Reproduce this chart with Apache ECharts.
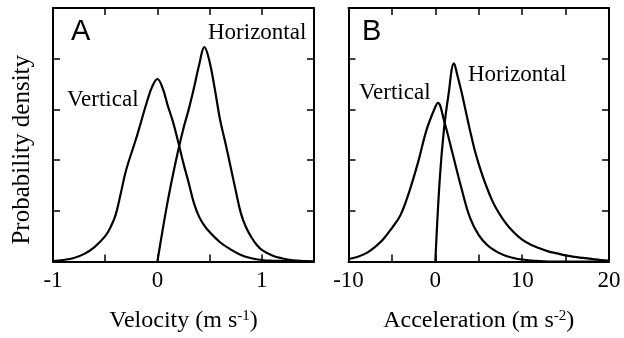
<!DOCTYPE html>
<html>
<head>
<meta charset="utf-8">
<script src="https://cdn.jsdelivr.net/npm/echarts@6/dist/echarts.min.js"></script>
<style>
html,body{margin:0;padding:0;background:#fff;}
#chart{width:624px;height:338px;}
</style>
</head>
<body>
<div id="chart"></div>
<script>
// Panel A: velocity (m s^-1) vs probability density
var velVertical = [
  [-1.0, 0.01], [-0.9, 0.03], [-0.8, 0.07], [-0.7, 0.15], [-0.6, 0.29],
  [-0.5, 0.5], [-0.45, 0.67], [-0.4, 0.92], [-0.35, 1.35], [-0.3, 1.8],
  [-0.2, 2.45], [-0.1, 3.15], [-0.05, 3.45], [0.0, 3.6], [0.05, 3.42],
  [0.1, 3.07], [0.15, 2.75], [0.2, 2.35], [0.25, 1.93], [0.3, 1.55],
  [0.35, 1.15], [0.4, 0.88], [0.45, 0.71], [0.5, 0.58], [0.6, 0.38],
  [0.7, 0.24], [0.8, 0.13], [0.9, 0.065], [1.0, 0.03], [1.1, 0.015],
  [1.2, 0.01], [1.5, 0.0]
];
var velHorizontal = [
  [0.0, 0.0], [0.05, 0.62], [0.1, 1.2], [0.15, 1.72], [0.2, 2.2],
  [0.25, 2.63], [0.3, 3.0], [0.35, 3.42], [0.4, 3.88], [0.45, 4.23],
  [0.5, 3.94], [0.55, 3.4], [0.6, 2.8], [0.65, 2.35], [0.7, 1.88],
  [0.75, 1.4], [0.8, 0.95], [0.85, 0.67], [0.9, 0.48], [0.95, 0.33],
  [1.0, 0.23], [1.1, 0.12], [1.2, 0.06], [1.3, 0.025], [1.4, 0.01], [1.5, 0.0]
];
// Panel B: acceleration (m s^-2) vs probability density
var accVertical = [
  [-10, 0.05], [-9, 0.09], [-8, 0.16], [-7, 0.28], [-6, 0.44],
  [-5, 0.66], [-4, 0.92], [-3, 1.38], [-2, 1.95], [-1, 2.6],
  [0, 3.05], [0.3, 3.13], [1, 2.78], [2, 2.12], [3, 1.45],
  [4, 0.86], [5, 0.52], [6, 0.32], [7, 0.2], [8, 0.12],
  [9, 0.07], [10, 0.04], [12, 0.01], [14, 0.0], [20, 0.0]
];
var accHorizontal = [
  [0, 0.0], [0.5, 1.6], [1.0, 2.62], [1.5, 3.27], [2.15, 3.91],
  [2.5, 3.7], [3, 3.36], [3.5, 2.97], [4, 2.58], [4.5, 2.22],
  [5, 1.92], [5.5, 1.66], [6, 1.43], [6.5, 1.22], [7, 1.05],
  [8, 0.78], [9, 0.58], [10, 0.43], [11, 0.33], [12, 0.26],
  [13, 0.2], [14, 0.16], [15, 0.12], [16, 0.09], [17, 0.07],
  [18, 0.05], [19, 0.03], [20, 0.02]
];
var panelLabels = ['A', 'B'];
var seriesNames = ['Vertical', 'Horizontal'];
var xNames = ['Velocity (m s{sup|-1})', 'Acceleration (m s{sup|-2})'];
var yName = 'Probability density';

var SERIF = '"Liberation Serif","Times New Roman",serif';
var FS = 23;
var lineW = 2;

function xAxisPair(gi, min, max, interval, labelFn, name) {
  return [
    {
      type: 'value', gridIndex: gi, position: 'bottom', min: min, max: max, interval: interval,
      axisLine: {show: true, onZero: false, lineStyle: {color: '#000', width: lineW}},
      axisTick: {show: true, inside: true, length: 7, lineStyle: {color: '#000', width: 1.5}},
      axisLabel: {show: true, margin: 8, color: '#000', fontFamily: SERIF, fontSize: FS,
        formatter: labelFn, showMinLabel: true, showMaxLabel: true},
      splitLine: {show: false},
      name: name, nameLocation: 'middle', nameGap: 47,
      nameTextStyle: {color: '#000', fontFamily: SERIF, fontSize: 24,
        rich: {sup: {fontFamily: SERIF, fontSize: 15, verticalAlign: 'top', padding: [0,0,10,0], color:'#000'}}}
    },
    {
      type: 'value', gridIndex: gi, position: 'top', min: min, max: max, interval: interval,
      axisLine: {show: true, onZero: false, lineStyle: {color: '#000', width: lineW}},
      axisTick: {show: true, inside: true, length: 7, lineStyle: {color: '#000', width: 1.5}},
      axisLabel: {show: false}, splitLine: {show: false}
    }
  ];
}
function yAxisPair(gi, withName) {
  var base = {
    type: 'value', gridIndex: gi, min: 0, max: 5, interval: 1,
    axisLine: {show: true, onZero: false, lineStyle: {color: '#000', width: lineW}},
    axisTick: {show: true, inside: true, length: 7, lineStyle: {color: '#000', width: 1.5}},
    axisLabel: {show: false}, splitLine: {show: false}
  };
  var left = Object.assign({}, base, {position: 'left'});
  if (withName) {
    left.name = yName; left.nameLocation = 'middle'; left.nameGap = 18;
    left.nameTextStyle = {color: '#000', fontFamily: SERIF, fontSize: 25, padding: [0, 30, 0, 0]};
  }
  var right = Object.assign({}, base, {position: 'right'});
  return [left, right];
}

var xAxes = [].concat(
  xAxisPair(0, -1, 1.5, 0.5, function (v) { return Math.abs(v - Math.round(v)) < 1e-9 && v < 1.5 ? String(v) : ''; }, xNames[0]),
  xAxisPair(1, -10, 20, 5, function (v) { return v % 10 === 0 ? String(v) : ''; }, xNames[1])
);
var yAxes = [].concat(yAxisPair(0, true), yAxisPair(1, false));

function line(data, xi, yi) {
  return {
    type: 'line', data: data, xAxisIndex: xi, yAxisIndex: yi, showSymbol: false,
    smooth: 0.4, lineStyle: {color: '#000', width: 2.2}, silent: true, animation: false
  };
}

function txt(text, x, y, font) {
  return {type: 'text', left: x, top: y, style: {text: text, font: font, fill: '#000'}, silent: true};
}

var chart = echarts.init(document.getElementById('chart'), null, {renderer: 'canvas'});
chart.setOption({
  animation: false,
  backgroundColor: '#fff',
  grid: [
    {left: 53, right: 310, top: 8, bottom: 71},
    {left: 348.5, right: 15, top: 8, bottom: 71}
  ],
  xAxis: xAxes,
  yAxis: yAxes,
  series: [
    line(velVertical, 0, 0),
    line(velHorizontal, 0, 0),
    line(accVertical, 2, 2),
    line(accHorizontal, 2, 2)
  ],
  graphic: [
    txt(panelLabels[0], 71, 17, '29px "Liberation Sans", Arial, sans-serif'),
    txt(panelLabels[1], 362, 17, '29px "Liberation Sans", Arial, sans-serif'),
    txt(seriesNames[0], 67, 88, FS + 'px ' + SERIF),
    txt(seriesNames[1], 208, 21, FS + 'px ' + SERIF),
    txt(seriesNames[0], 359, 81, FS + 'px ' + SERIF),
    txt(seriesNames[1], 468, 63, FS + 'px ' + SERIF)
  ]
});
</script>
</body>
</html>
